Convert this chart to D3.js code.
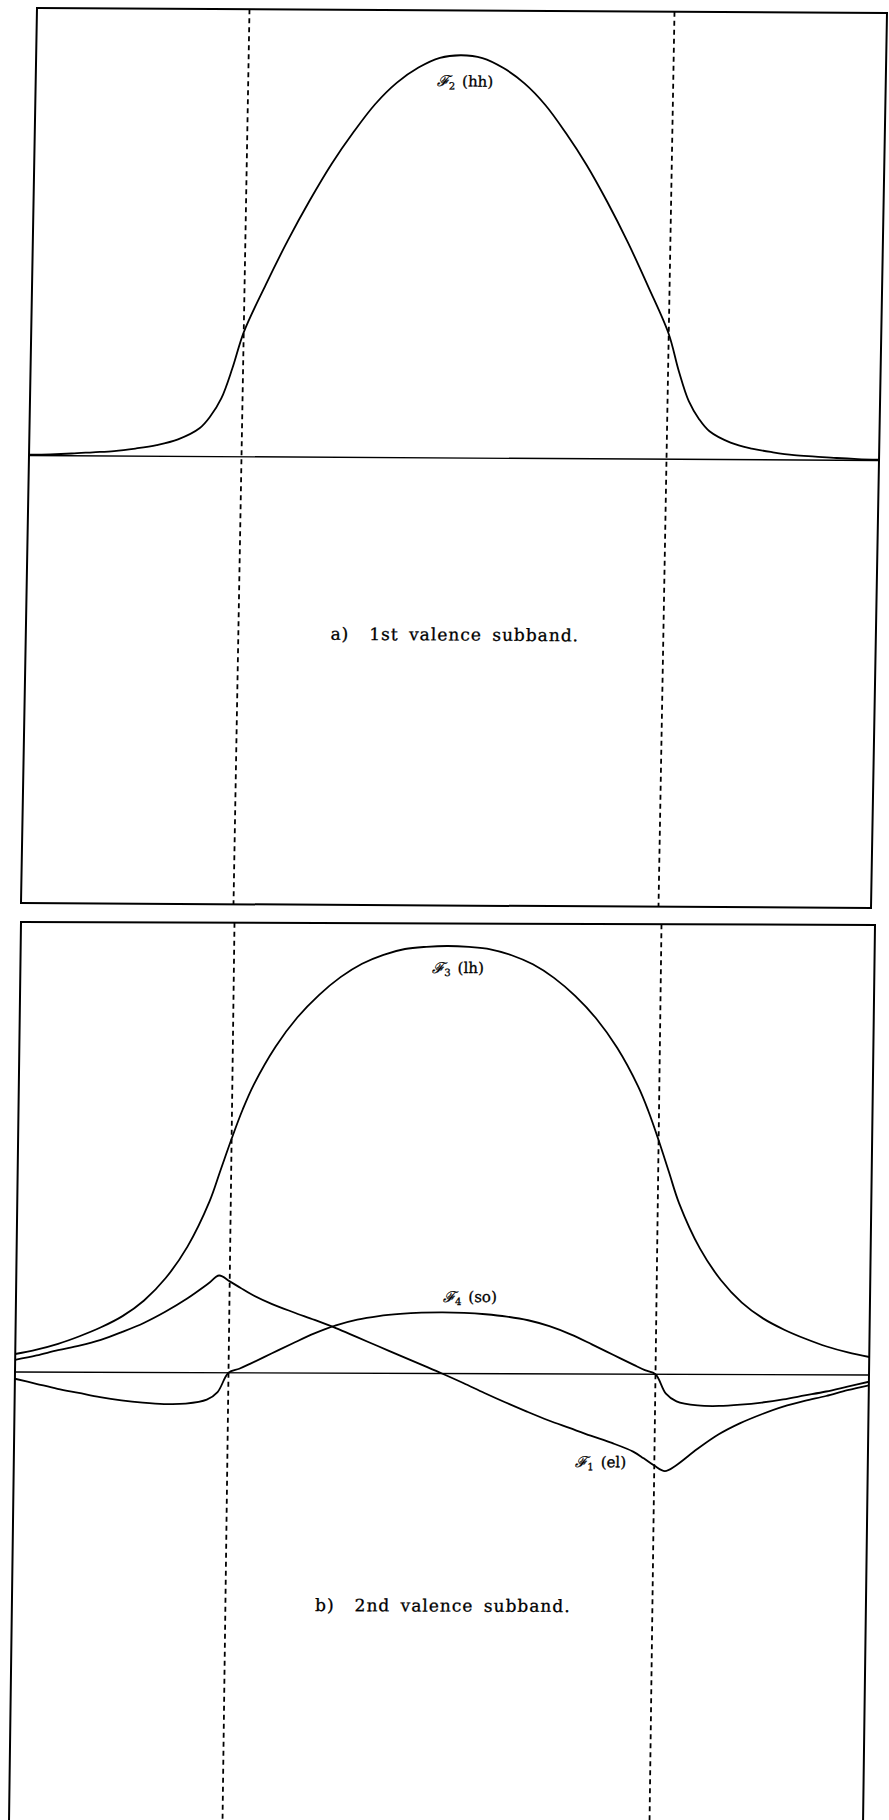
<!DOCTYPE html>
<html>
<head>
<meta charset="utf-8">
<script src="https://cdn.jsdelivr.net/npm/d3@7"></script>
<style>
  html, body { margin: 0; padding: 0; background: #fff; }
  svg { display: block; }
</style>
</head>
<body>
<svg id="fig" width="889" height="1820"></svg>
<script>
// Envelope functions across the quantum well (well edges at z = ±1, barriers beyond).

// a) 1st valence subband: heavy-hole component
const zA = [-2, -1.9, -1.8, -1.7, -1.6, -1.5, -1.4, -1.3, -1.2, -1.15, -1.1, -1.05, -1, -0.9, -0.8, -0.7, -0.6, -0.5, -0.4, -0.3, -0.2, -0.1, 0,
            0.1, 0.2, 0.3, 0.4, 0.5, 0.6, 0.7, 0.8, 0.9, 1, 1.05, 1.1, 1.15, 1.2, 1.3, 1.4, 1.5, 1.6, 1.7, 1.8, 1.9, 2];
const hhA = [0.002, 0.003, 0.005, 0.008, 0.011, 0.017, 0.025, 0.038, 0.063, 0.09, 0.13, 0.198, 0.278, 0.385, 0.484, 0.574, 0.656, 0.727, 0.79, 0.838, 0.872, 0.894, 0.9,
             0.894, 0.872, 0.838, 0.79, 0.727, 0.656, 0.574, 0.484, 0.385, 0.28, 0.198, 0.13, 0.09, 0.063, 0.038, 0.025, 0.017, 0.011, 0.008, 0.005, 0.003, 0.002];

// b) 2nd valence subband: light-hole, spin-orbit and electron components
const zB = [-2, -1.9, -1.8, -1.7, -1.6, -1.5, -1.4, -1.3, -1.2, -1.1, -1.05, -1, -0.95, -0.9, -0.8, -0.7, -0.6, -0.5, -0.4, -0.3, -0.2, -0.1, 0,
            0.1, 0.2, 0.3, 0.4, 0.5, 0.6, 0.7, 0.8, 0.9, 0.95, 1, 1.05, 1.1, 1.2, 1.3, 1.4, 1.5, 1.6, 1.7, 1.8, 1.9, 2];
const lhB = [0.04, 0.05, 0.063, 0.08, 0.1, 0.125, 0.16, 0.21, 0.28, 0.38, 0.45, 0.52, 0.585, 0.64, 0.725, 0.79, 0.84, 0.88, 0.91, 0.93, 0.943, 0.948, 0.95,
             0.948, 0.943, 0.93, 0.91, 0.88, 0.84, 0.79, 0.725, 0.64, 0.585, 0.52, 0.45, 0.38, 0.28, 0.21, 0.16, 0.125, 0.1, 0.08, 0.063, 0.05, 0.04];
const soB = [-0.015, -0.026, -0.037, -0.046, -0.055, -0.062, -0.067, -0.07, -0.069, -0.06, -0.043, 0, 0.009, 0.02, 0.043, 0.066, 0.088, 0.106, 0.119, 0.127, 0.132, 0.135, 0.136,
             0.135, 0.132, 0.127, 0.119, 0.106, 0.088, 0.066, 0.043, 0.02, 0.009, 0, -0.043, -0.06, -0.069, -0.07, -0.067, -0.062, -0.055, -0.046, -0.037, -0.026, -0.015];
const elB = [0.027, 0.037, 0.049, 0.059, 0.072, 0.09, 0.11, 0.135, 0.164, 0.198, 0.216, 0.203, 0.189, 0.175, 0.153, 0.135, 0.118, 0.1, 0.08, 0.06, 0.04, 0.02, 0,
             -0.021, -0.043, -0.064, -0.084, -0.103, -0.12, -0.137, -0.153, -0.172, -0.187, -0.203, -0.215, -0.203, -0.166, -0.133, -0.108, -0.088, -0.071, -0.058, -0.047, -0.034, -0.023];

const wellEdges = [-1, 1];
const zDomain = [-2, 2];
const fDomain = [-1, 1];

const captionA = ["a)", "1st valence subband."];
const captionB = ["b)", "2nd valence subband."];

// curve labels: [component index, band name, z position, value position, anchor]
const labelsA = [["2", "hh", 0.02, 0.83, "middle"]];
const labelsB = [["3", "lh", 0.05, 0.89, "middle"], ["4", "so", 0.0, 0.159, "start"], ["1", "el", 0.63, -0.207, "start"]];

const svg = d3.select("#fig");

// each panel is a slightly sheared frame; corners: top-left, top-right, bottom-left
function makePanel(corners, W, H) {
  const [tl, tr, bl] = corners;
  const a = (tr[0] - tl[0]) / W, b = (tr[1] - tl[1]) / W;
  const c = (bl[0] - tl[0]) / H, d = (bl[1] - tl[1]) / H;
  const g = svg.append("g")
    .attr("transform", `matrix(${a},${b},${c},${d},${tl[0]},${tl[1]})`);
  const x = d3.scaleLinear().domain(zDomain).range([0, W]);
  const y = d3.scaleLinear().domain(fDomain).range([H, 0]);

  // frame
  g.append("rect")
    .attr("x", 0).attr("y", 0).attr("width", W).attr("height", H)
    .attr("fill", "none").attr("stroke", "#000").attr("stroke-width", 2);

  // well boundaries
  g.selectAll("line.edge").data(wellEdges).join("line")
    .attr("class", "edge")
    .attr("x1", z => x(z)).attr("x2", z => x(z))
    .attr("y1", 0).attr("y2", H)
    .attr("stroke", "#000").attr("stroke-width", 1.8)
    .attr("stroke-dasharray", "5,4");

  // zero axis
  g.append("line")
    .attr("x1", 0).attr("x2", W)
    .attr("y1", y(0)).attr("y2", y(0))
    .attr("stroke", "#000").attr("stroke-width", 1.4);

  return { g, x, y, W, H };
}

function drawCurve(p, zs, vals) {
  const line = d3.line()
    .x(d => p.x(d[0]))
    .y(d => p.y(d[1]))
    .curve(d3.curveCatmullRom.alpha(0.5));
  p.g.append("path")
    .datum(d3.zip(zs, vals))
    .attr("d", line)
    .attr("fill", "none")
    .attr("stroke", "#000")
    .attr("stroke-width", 1.8)
    .attr("stroke-linejoin", "round");
}

function drawLabels(p, labels) {
  labels.forEach(([idx, name, z, v, anchor]) => {
    const t = p.g.append("text")
      .attr("x", p.x(z)).attr("y", p.y(v))
      .attr("text-anchor", anchor)
      .attr("font-family", "DejaVu Serif, serif")
      .attr("font-size", 15)
      .attr("stroke", "#000").attr("stroke-width", 0.3)
      .attr("fill", "#000");
    t.append("tspan").attr("font-style", "italic").text("\u2131");
    t.append("tspan").attr("font-size", 10).attr("dy", 3).text(idx);
    t.append("tspan").attr("dy", -3).attr("dx", 7).text("(" + name + ")");
  });
}

function drawCaption(p, cap, yPos) {
  const t = p.g.append("text")
    .attr("x", p.W / 2 + 4).attr("y", yPos)
    .attr("text-anchor", "middle")
    .attr("font-family", "DejaVu Serif, serif")
    .attr("font-size", 17)
    .attr("letter-spacing", 1)
    .attr("word-spacing", 4)
    .attr("stroke", "#000").attr("stroke-width", 0.3)
    .attr("fill", "#000");
  t.append("tspan").text(cap[0]);
  t.append("tspan").attr("dx", 20).text(cap[1]);
}

// panel a
const pA = makePanel([[37, 8], [887, 13], [21, 903]], 850, 895);
drawCurve(pA, zA, hhA);
drawLabels(pA, labelsA);
drawCaption(pA, captionA, 630);

// panel b
const pB = makePanel([[21, 922], [875, 925], [9, 1822]], 854, 900);
drawCurve(pB, zB, lhB);
drawCurve(pB, zB, soB);
drawCurve(pB, zB, elB);
drawLabels(pB, labelsB);
drawCaption(pB, captionB, 688);
</script>
</body>
</html>
